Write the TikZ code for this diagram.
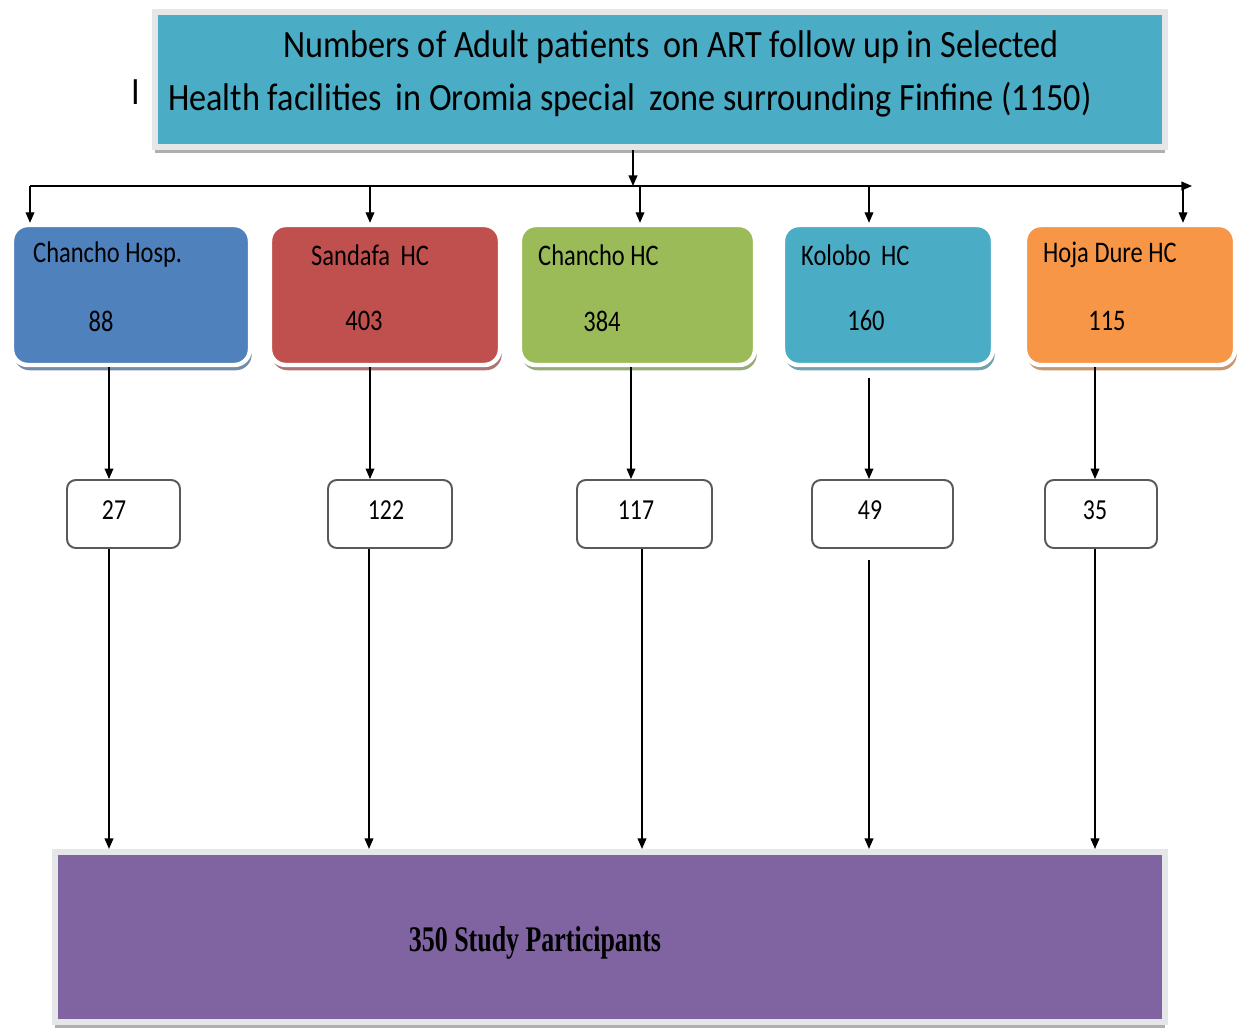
\documentclass[tikz,border=0pt]{standalone}
\usepackage{fontspec}
\setmainfont{Carlito}[FakeStretch=0.82]
\newfontfamily\titlefont{Carlito}[FakeStretch=0.885]
\newfontfamily\timesfont{Liberation Serif}[FakeStretch=0.72]
\usetikzlibrary{arrows.meta,shadows}
\definecolor{hospblue}{HTML}{4F81BD}
\definecolor{hcred}{HTML}{C0504D}
\definecolor{hcgreen}{HTML}{9BBB59}
\definecolor{hcteal}{HTML}{4BACC6}
\definecolor{hcorange}{HTML}{F79646}
\definecolor{studypurple}{HTML}{8064A2}
\definecolor{frame}{HTML}{E4E6E8}

\begin{document}
\begin{tikzpicture}[x=0.02cm,y=-0.02cm,
    link/.style={-{Triangle[length=6pt,width=5pt]},line width=0.75pt},
    flatbox/.style={fill=#1,draw=frame,line width=3.5pt,
        drop shadow={shadow xshift=0pt,shadow yshift=-3.5pt,fill=gray!70,opacity=0.9}},
    sitebox/.style={fill=#1,draw=white,line width=2.5pt,rounded corners=9pt,
        minimum height=2.8cm,
        drop shadow={shadow xshift=1pt,shadow yshift=-3pt,fill=#1!55!gray,opacity=0.9}},
    countbox/.style={fill=white,draw=gray!70!black,line width=1.1pt,rounded corners=5pt,
        minimum height=1.36cm},
    titletext/.style={font=\titlefont\fontsize{22}{26}\selectfont},
    sitename/.style={anchor=west,font=\fontsize{17}{20}\selectfont},
    sitecount/.style={font=\fontsize{17}{20}\selectfont},
    smallcount/.style={font=\fontsize{16.5}{19}\selectfont}]
\useasboundingbox (0,0) rectangle (1241,1028);

% top box
\node[flatbox=hcteal,minimum width=20.2cm,minimum height=2.7cm] (title) at (660,79.5) {};
\node[titletext] (titleA) at (671,47) {Numbers of Adult patients\ \,on ART follow up in Selected};
\node[titletext] (titleB) at (630,100) {Health facilities\ \,in\ Oromia special\ \,zone surrounding Finfine (1150)};
\node[titletext] (mark) at (136,92) {I};

% health facilities
\node[sitebox=hospblue,minimum width=4.76cm] (hosp) at (131,295) {};
\node[sitebox=hcred,minimum width=4.6cm] (sandafa) at (385,295) {};
\node[sitebox=hcgreen,minimum width=4.7cm] (chanchohc) at (637.5,295) {};
\node[sitebox=hcteal,minimum width=4.2cm] (kolobo) at (888,295) {};
\node[sitebox=hcorange,minimum width=4.2cm] (hoja) at (1130,295) {};

\node[sitename] (hospname) at (27,255) {Chancho Hosp.};
\node[sitename] (sandafaname) at (305,255) {Sandafa\ \,HC};
\node[sitename] (chanchohcname) at (532,255) {Chancho HC};
\node[sitename] (koboloname) at (795,255) {Kolobo\ \,HC};
\node[sitename] (hojaname) at (1037,255) {Hoja Dure HC};

\node[sitecount] (hospnum) at (101,321) {88};
\node[sitecount] (sandafanum) at (364,321) {403};
\node[sitecount] (chanchohcnum) at (602,321) {384};
\node[sitecount] (kolobonum) at (866,321) {160};
\node[sitecount] (hojanum) at (1107,321) {115};

% sample per facility
\node[countbox,minimum width=2.26cm] (s27) at (123.5,514) {};
\node[countbox,minimum width=2.48cm] (s122) at (390,514) {};
\node[countbox,minimum width=2.7cm] (s117) at (644.5,514) {};
\node[countbox,minimum width=2.82cm] (s49) at (882.5,514) {};
\node[countbox,minimum width=2.24cm] (s35) at (1101,514) {};

\node[smallcount] (t27) at (114,510) {27};
\node[smallcount] (t122) at (386,510) {122};
\node[smallcount] (t117) at (636,510) {117};
\node[smallcount] (t49) at (870,510) {49};
\node[smallcount] (t35) at (1095,510) {35};

% study participants
\node[flatbox=studypurple,minimum width=22.2cm,minimum height=3.4cm] (study) at (610,937) {};
\node[font=\timesfont\bfseries\fontsize{20.5}{24}\selectfont] (studytext) at (535,943) {350 Study Participants};

% connectors
\coordinate (busL) at (30,186);
\coordinate (busR) at (1192,186);
\coordinate (split) at (633,186);
\draw[link] (title.south -| split) -- (split);
\draw[link] (busL) -- (busR);
\foreach \x/\site in {30/hosp,370/sandafa,640/chanchohc,869/kolobo,1183/hoja}
{
  \coordinate (drop) at (\x,186);
  \draw[link] (drop) -- (drop |- \site.north);
}
\foreach \x/\site/\sample/\gap in {109/hosp/s27/0,370/sandafa/s122/0,631/chanchohc/s117/0,869/kolobo/s49/6,1095/hoja/s35/0}
{
  \coordinate (col) at (\x,0);
  \draw[link,shorten <=\gap pt] (\site.south -| col) -- (\sample.north -| col);
}
\foreach \x/\sample/\gap in {109/s27/0,369/s122/0,642/s117/0,869/s49/6,1095/s35/0}
{
  \coordinate (col) at (\x,0);
  \draw[link,shorten <=\gap pt] (\sample.south -| col) -- (study.north -| col);
}
\end{tikzpicture}
\end{document}
